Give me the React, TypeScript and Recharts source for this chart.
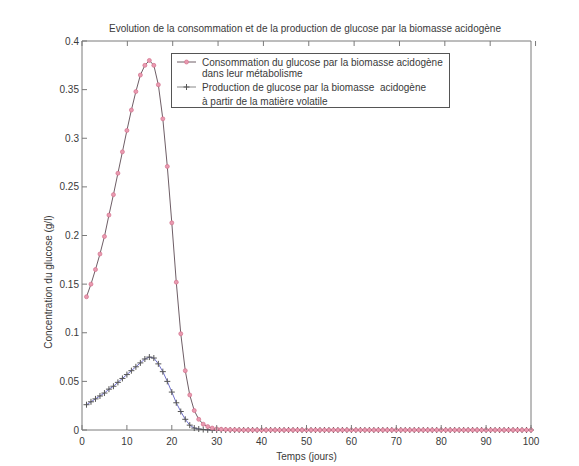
import { LineChart, Line, XAxis, YAxis, Legend } from 'recharts';

const days = [
  1, 2, 3, 4, 5, 6, 7, 8, 9, 10,
  11, 12, 13, 14, 15, 16, 17, 18, 19, 20,
  21, 22, 23, 24, 25, 26, 27, 28, 29, 30,
  31, 32, 33, 34, 35, 36, 37, 38, 39, 40,
  41, 42, 43, 44, 45, 46, 47, 48, 49, 50,
  51, 52, 53, 54, 55, 56, 57, 58, 59, 60,
  61, 62, 63, 64, 65, 66, 67, 68, 69, 70,
  71, 72, 73, 74, 75, 76, 77, 78, 79, 80,
  81, 82, 83, 84, 85, 86, 87, 88, 89, 90,
  91, 92, 93, 94, 95, 96, 97, 98, 99, 100,
];

// consommation du glucose (g/l)
const consommation = [
  0.137, 0.150, 0.165, 0.181, 0.199, 0.221, 0.242, 0.264, 0.286, 0.308,
  0.329, 0.348, 0.365, 0.375, 0.380, 0.375, 0.355, 0.320, 0.271, 0.213,
  0.152, 0.099, 0.061, 0.036, 0.020, 0.011, 0.006, 0.0035, 0.002, 0.0012,
  0.0008, 0.0005, 0.0003, 0.0002, 0.0001, 0, 0, 0, 0, 0,
  0, 0, 0, 0, 0, 0, 0, 0, 0, 0,
  0, 0, 0, 0, 0, 0, 0, 0, 0, 0,
  0, 0, 0, 0, 0, 0, 0, 0, 0, 0,
  0, 0, 0, 0, 0, 0, 0, 0, 0, 0,
  0, 0, 0, 0, 0, 0, 0, 0, 0, 0,
  0, 0, 0, 0, 0, 0, 0, 0, 0, 0,
];

// production de glucose (g/l)
const production = [
  0.026, 0.029, 0.032, 0.035, 0.038, 0.042, 0.045, 0.049, 0.053, 0.057,
  0.061, 0.065, 0.069, 0.073, 0.075, 0.074, 0.068, 0.060, 0.050, 0.039,
  0.028, 0.019, 0.011, 0.005, 0.002, 0.001, 0.0005, 0.0002, 0, 0,
  0, 0, 0, 0, 0, 0, 0, 0, 0, 0,
  0, 0, 0, 0, 0, 0, 0, 0, 0, 0,
  0, 0, 0, 0, 0, 0, 0, 0, 0, 0,
  0, 0, 0, 0, 0, 0, 0, 0, 0, 0,
  0, 0, 0, 0, 0, 0, 0, 0, 0, 0,
  0, 0, 0, 0, 0, 0, 0, 0, 0, 0,
  0, 0, 0, 0, 0, 0, 0, 0, 0, 0,
];

const xTicks = [0, 10, 20, 30, 40, 50, 60, 70, 80, 90, 100];
const yTicks = [0, 0.05, 0.1, 0.15, 0.2, 0.25, 0.3, 0.35, 0.4];

const titre = 'Evolution de la consommation et de la production de glucose par la biomasse acidogène';
const legendeConso = ['Consommation du glucose par la biomasse acidogène', 'dans leur métabolisme'];
const legendeProd = ['Production de glucose par la biomasse  acidogène', 'à partir de la matière volatile'];

const data = days.map((d, i) => ({ jour: d, conso: consommation[i], prod: production[i] }));

const FONT = '"Liberation Sans", Arial, sans-serif';
const TXT = '#3a3a3a';
const AXE = '#7a7a7a';
const ROSE = '#e99ab0';
const ROSE_LINE = '#6e5e66';
const BLEU = '#7272cc';
const PLUS = '#555';

const BottomTick = (p: any) => (
  <g>
    <line x1={p.x} x2={p.x} y1={p.y} y2={p.y - 5} stroke={AXE} />
    <text x={p.x} y={p.y + 15} textAnchor="middle" fontSize={10} fontFamily={FONT} fill={TXT}>
      {p.payload.value}
    </text>
  </g>
);

const TopTick = (p: any) => <line x1={p.x} x2={p.x} y1={p.y} y2={p.y + 5} stroke={AXE} />;

const LeftTick = (p: any) => (
  <g>
    <line x1={p.x} x2={p.x + 5} y1={p.y} y2={p.y} stroke={AXE} />
    <text x={p.x - 3} y={p.y + 3.5} textAnchor="end" fontSize={10} fontFamily={FONT} fill={TXT}>
      {p.payload.value}
    </text>
  </g>
);

const RightTick = (p: any) => <line x1={p.x} x2={p.x - 5} y1={p.y} y2={p.y} stroke={AXE} />;

const ConsoDot = (p: any) => {
  if (p.cx == null || p.cy == null) return <g key={p.index} />;
  return <circle key={p.index} cx={p.cx} cy={p.cy} r={2} fill={ROSE} stroke="#d4728e" strokeWidth={0.7} />;
};

const ProdDot = (p: any) => {
  if (p.cx == null || p.cy == null) return <g key={p.index} />;
  return (
    <g key={p.index}>
      <line x1={p.cx - 3} x2={p.cx + 3} y1={p.cy} y2={p.cy} stroke={PLUS} strokeWidth={1} />
      <line x1={p.cx} x2={p.cx} y1={p.cy - 3} y2={p.cy + 3} stroke={PLUS} strokeWidth={1} />
    </g>
  );
};

const Legende = () => (
  <svg width={280} height={56} style={{ display: 'block' }}>
    <rect x={0.5} y={0.5} width={278} height={54} fill="#fff" stroke="#555" />
    <line x1={6} x2={25} y1={9} y2={9} stroke={ROSE_LINE} />
    <circle cx={15.5} cy={9} r={2} fill={ROSE} stroke="#d4728e" strokeWidth={0.7} />
    <line x1={6} x2={25} y1={34} y2={34} stroke="#888" />
    <line x1={12.5} x2={18.5} y1={34} y2={34} stroke={PLUS} />
    <line x1={15.5} x2={15.5} y1={31} y2={37} stroke={PLUS} />
    <g fontSize={10} fontFamily={FONT} fill={TXT}>
      <text x={31} y={12.5}>{legendeConso[0]}</text>
      <text x={31} y={23.5}>{legendeConso[1]}</text>
      <text x={31} y={37.5} style={{ whiteSpace: 'pre' }}>{legendeProd[0]}</text>
      <text x={31} y={51.5}>{legendeProd[1]}</text>
    </g>
  </svg>
);

export default function App() {
  return (
    <div style={{ position: 'absolute', left: 0, top: 0, width: 579, height: 466, background: '#fff' }}>
      <LineChart width={579} height={466} data={data} margin={{ top: 0, right: 0, bottom: 0, left: 0 }}>
        <XAxis
          dataKey="jour"
          type="number"
          domain={[0, 100]}
          ticks={xTicks}
          height={36}
          stroke={AXE}
          tickSize={0}
          tickMargin={0}
          tick={<BottomTick />}
          tickLine={false}
          label={{ value: 'Temps (jours)', position: 'insideBottom', offset: 6, fontSize: 10, fontFamily: FONT, fill: TXT }}
        />
        <XAxis
          xAxisId="top"
          orientation="top"
          type="number"
          domain={[0, 100]}
          ticks={xTicks}
          height={41}
          stroke={AXE}
          tickSize={0}
          tickMargin={0}
          tick={<TopTick />}
          tickLine={false}
          label={() => (
            <text x={305} y={32} textAnchor="middle" fontSize={10} fontFamily={FONT} fill={TXT}>
              {titre}
            </text>
          )}
        />
        <YAxis
          type="number"
          domain={[0, 0.4]}
          ticks={yTicks}
          width={82}
          stroke={AXE}
          tickSize={0}
          tickMargin={0}
          tick={<LeftTick />}
          tickLine={false}
          label={() => (
            <text
              x={52}
              y={282}
              transform="rotate(-90 52 282)"
              textAnchor="middle"
              fontSize={10}
              fontFamily={FONT}
              fill={TXT}
            >
              Concentration du glucose (g/l)
            </text>
          )}
        />
        <YAxis
          yAxisId="right"
          orientation="right"
          type="number"
          domain={[0, 0.4]}
          ticks={yTicks}
          width={48}
          stroke={AXE}
          tickSize={0}
          tickMargin={0}
          tick={<RightTick />}
          tickLine={false}
        />
        <Legend
          layout="vertical"
          align="center"
          verticalAlign="middle"
          wrapperStyle={{ left: 171, top: 53, width: 280, height: 56 }}
          content={() => <Legende />}
        />
        <Line
          type="linear"
          dataKey="prod"
          stroke={BLEU}
          strokeWidth={1}
          dot={(p: any) => <ProdDot key={p.index} {...p} />}
          activeDot={false}
          isAnimationActive={false}
        />
        <Line
          type="linear"
          dataKey="conso"
          stroke={ROSE_LINE}
          strokeWidth={1}
          dot={(p: any) => <ConsoDot key={p.index} {...p} />}
          activeDot={false}
          isAnimationActive={false}
        />
      </LineChart>
    </div>
  );
}
